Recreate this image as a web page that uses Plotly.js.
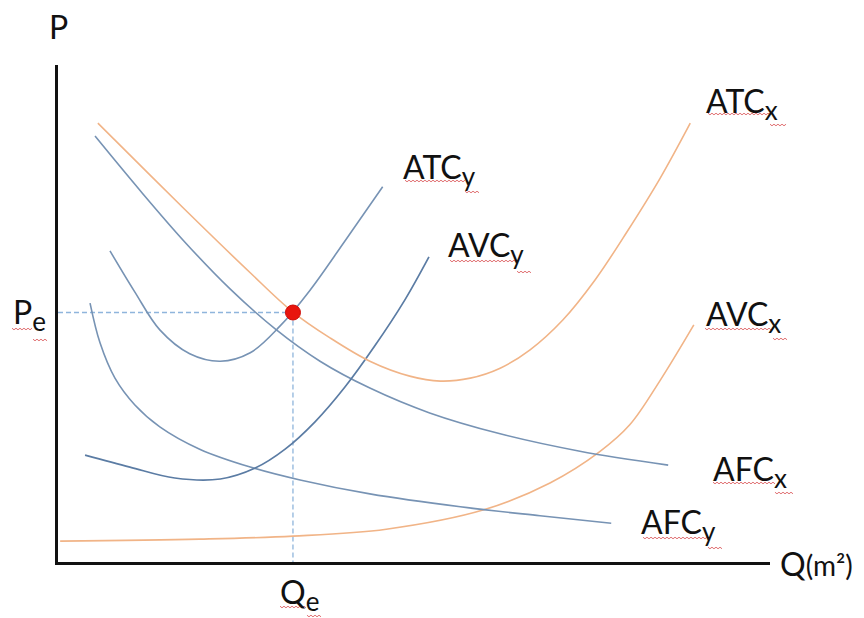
<!DOCTYPE html>
<html>
<head>
<meta charset="utf-8">
<script src="https://cdn.plot.ly/plotly-3.0.1.min.js"></script>
<style>html,body{margin:0;padding:0;background:#fff;}#chart{width:864px;height:618px;}</style>
</head>
<body>
<div id="chart"></div>
<script>
// Quantity (Q) and price (P) readings for each cost curve
const ATCx_q = [5.6, 12.9, 19.9, 27.0, 32.9, 38.2, 43.8, 49.4, 53.7, 57.9, 62.1, 66.3, 70.9, 75.4, 79.9, 84.6, 88.8];
const ATCx_p = [88.3, 77.9, 68.0, 58.2, 50.4, 45.1, 40.4, 37.4, 36.4, 37.0, 39.0, 42.7, 48.7, 56.7, 66.4, 77.3, 88.3];

const AVCx_q = [0.3, 19.9, 33.0, 46.1, 59.8, 69.1, 76.0, 80.3, 84.6, 89.3];
const AVCx_p = [4.2, 4.6, 5.2, 6.6, 10.5, 15.9, 22.1, 27.6, 36.6, 47.7];

const AFCx_q = [5.2, 11.5, 17.8, 24.2, 30.5, 36.8, 43.8, 52.2, 62.1, 73.3, 85.7];
const AFCx_p = [85.7, 74.8, 64.4, 54.9, 46.9, 40.4, 35.0, 30.0, 25.8, 22.3, 19.5];

const ATCy_q = [7.3, 10.8, 14.3, 18.5, 22.8, 27.0, 31.2, 35.4, 40.3, 45.6];
const ATCy_p = [62.6, 54.3, 46.7, 41.9, 40.4, 42.1, 47.5, 54.7, 64.6, 75.5];

const AVCy_q = [3.8, 10.1, 16.4, 22.8, 27.7, 31.9, 36.1, 40.3, 44.5, 48.7, 52.1];
const AVCy_p = [21.5, 19.1, 16.9, 16.7, 18.9, 22.7, 28.2, 35.2, 43.5, 52.7, 61.4];

const AFCy_q = [4.5, 5.9, 8.0, 10.8, 14.3, 19.9, 27.0, 34.0, 43.8, 56.5, 67.7, 77.7];
const AFCy_p = [52.1, 44.1, 37.0, 31.6, 27.2, 22.7, 19.1, 16.5, 13.7, 11.1, 9.3, 7.8];

const Qe = 33.0;
const Pe = 50.2;

const BLUE = '#7793b4';
const BLUE_DARK = '#5b7ca4';
const ORANGE = '#f1b487';
const DASH = '#8fb5dc';

function curve(q, p, color, w) {
  return {x: q, y: p, type: 'scatter', mode: 'lines',
          line: {color: color, width: w, shape: 'spline', smoothing: 1},
          hoverinfo: 'skip', showlegend: false};
}

const traces = [
  {x: [0, Qe], y: [Pe, Pe], type: 'scatter', mode: 'lines',
   line: {color: DASH, width: 1.3, dash: '5px,3px'}, showlegend: false, hoverinfo: 'skip'},
  {x: [Qe, Qe], y: [Pe, 0], type: 'scatter', mode: 'lines',
   line: {color: DASH, width: 1.3, dash: '5px,3px'}, showlegend: false, hoverinfo: 'skip'},
  curve(AVCx_q, AVCx_p, ORANGE, 1.6),
  curve(AFCx_q, AFCx_p, BLUE, 1.6),
  curve(AFCy_q, AFCy_p, BLUE, 1.6),
  curve(AVCy_q, AVCy_p, BLUE_DARK, 1.7),
  curve(ATCy_q, ATCy_p, BLUE, 1.6),
  curve(ATCx_q, ATCx_p, ORANGE, 1.6),
  {x: [Qe], y: [Pe], type: 'scatter', mode: 'markers',
   marker: {color: '#e8150e', size: 15, line: {color: '#cc0a05', width: 1}},
   showlegend: false, hoverinfo: 'skip', cliponaxis: false}
];

const FONT = {family: 'Lato, "Open Sans", sans-serif', size: 32, color: '#111'};

function sub(main, s) {
  return main + '<sub><span style="font-size:26px">' + s + '</span></sub>';
}

function label(text, x, y, ref, anchor) {
  return {text: text, x: x, y: y, xref: ref === 'paper' ? 'paper' : 'x', yref: ref === 'paper' ? 'paper' : 'y',
          showarrow: false, xanchor: anchor || 'left', yanchor: 'top', font: FONT, borderpad: 0};
}

const annotations = [
  label(sub('ATC', 'x'), 90.9, 97.0),
  label(sub('ATC', 'y'), 48.3, 83.7),
  label(sub('AVC', 'y'), 54.6, 68.0),
  label(sub('AVC', 'x'), 90.9, 54.1),
  label(sub('AFC', 'x'), 91.9, 22.9),
  label(sub('AFC', 'y'), 81.7, 12.3),
  label('P', 0.0014, 1.119, 'paper', 'center'),
  label(sub('P', 'e'), -0.065, 0.545, 'paper'),
  label(sub('Q', 'e'), 0.310, -0.018, 'paper'),
  label('Q<span style="font-size:28px">(m²)</span>', 1.013, 0.038, 'paper')
];

// spell-check style wavy underlines (decoration), given in pixel positions
function X(px) { return (px - 58) / 712; }
function Y(py) { return (562 - py) / 497; }
function squiggle(px0, px1, py) {
  let d = '';
  let up = true;
  for (let px = px0; px <= px1; px += 2) {
    const yy = py + (up ? -0.8 : 0.8);
    d += (d ? ' L ' : 'M ') + X(px).toFixed(4) + ',' + Y(yy).toFixed(4);
    up = !up;
  }
  return {type: 'path', path: d, xref: 'paper', yref: 'paper',
          line: {color: '#e06e70', width: 1}, layer: 'above'};
}
const underlines = [
  [708, 770, 114], [770, 786, 125],
  [405, 465, 181], [465, 480, 192],
  [450, 517, 261], [517, 532, 272],
  [705, 772, 329], [773, 787, 339],
  [713, 775, 483], [775, 793, 493],
  [643, 708, 538], [708, 722, 548],
  [12, 33, 329], [33, 47, 340],
  [280, 307, 607], [307, 322, 616]
];
const shapes = underlines.map(u => squiggle(u[0], u[1], u[2]));

const layout = {
  width: 864, height: 618,
  margin: {l: 58, r: 94, t: 65, b: 56, pad: 0},
  paper_bgcolor: '#fff', plot_bgcolor: '#fff',
  showlegend: false,
  xaxis: {range: [0, 100], showline: true, linecolor: '#111', linewidth: 3,
          showgrid: false, zeroline: false, showticklabels: false, ticks: '', fixedrange: true},
  yaxis: {range: [0, 100], showline: true, linecolor: '#111', linewidth: 3,
          showgrid: false, zeroline: false, showticklabels: false, ticks: '', fixedrange: true},
  annotations: annotations,
  shapes: shapes
};

Plotly.newPlot('chart', traces, layout, {displayModeBar: false, staticPlot: true});
</script>
</body>
</html>
